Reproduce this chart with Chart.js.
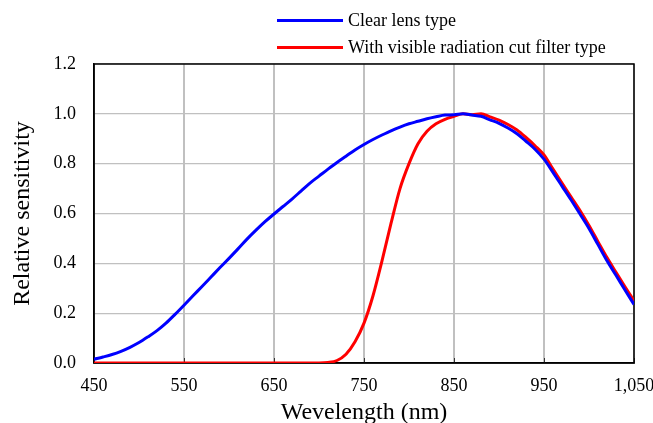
<!DOCTYPE html>
<html>
<head>
<meta charset="utf-8">
<script src="https://cdn.jsdelivr.net/npm/chart.js@4.4.1/dist/chart.umd.min.js"></script>
<style>
  html, body { margin: 0; padding: 0; background: #fff; }
  #wrap { position: relative; width: 653px; height: 423px; overflow: hidden; }
  #c { position: absolute; left: 0; top: 0; }
  .leg { position: absolute; left: 277px; height: 24px; font: 18px "Liberation Serif", "Times New Roman", serif; color: #000; white-space: nowrap; }
  .leg .sw { position: absolute; left: 0; top: 10px; width: 66px; height: 3px; }
  .leg .tx { position: absolute; left: 71px; top: 0; line-height: 22px; }
</style>
</head>
<body>
<div id="wrap">
  <canvas id="c" width="653" height="423"></canvas>
  <div class="leg" style="top:9px"><div class="sw" style="background:#0000ff"></div><div class="tx">Clear lens type</div></div>
  <div class="leg" style="top:36px"><div class="sw" style="background:#ff0000"></div><div class="tx">With visible radiation cut filter type</div></div>
</div>
<script>
const wavelengths = [450,460,470,480,490,500,510,520,530,540,550,560,570,580,590,600,610,620,630,640,650,660,670,680,690,700,710,720,730,740,750,760,770,780,790,800,810,820,830,840,850,860,870,880,890,900,910,920,930,940,950,960,970,980,990,1000,1010,1020,1030,1040,1050];

const clearLens = [0.015,0.024,0.034,0.047,0.063,0.082,0.105,0.13,0.16,0.195,0.232,0.27,0.307,0.345,0.383,0.42,0.458,0.497,0.533,0.567,0.598,0.628,0.658,0.69,0.722,0.75,0.778,0.805,0.83,0.855,0.877,0.897,0.915,0.932,0.947,0.96,0.97,0.98,0.988,0.995,0.996,1.0,0.995,0.99,0.976,0.962,0.943,0.92,0.89,0.858,0.818,0.765,0.71,0.655,0.598,0.54,0.475,0.41,0.352,0.293,0.235];

const cutFilter = [0,0,0,0,0,0,0,0,0,0,0,0,0,0,0,0,0,0,0,0,0,0,0,0,0,0,0.002,0.01,0.035,0.085,0.16,0.27,0.41,0.56,0.70,0.80,0.88,0.93,0.96,0.978,0.99,1.0,0.996,1.0,0.988,0.975,0.957,0.935,0.905,0.872,0.835,0.778,0.722,0.667,0.612,0.552,0.487,0.423,0.364,0.306,0.25];

const xTicks = [450,550,650,750,850,950,1050];
const yTicks = [0.0,0.2,0.4,0.6,0.8,1.0,1.2];

const serif = '"Liberation Serif", "Times New Roman", serif';

const framePlugin = {
  id: 'frame',
  beforeDatasetsDraw(chart) {
    const {ctx, chartArea: a, scales} = chart;
    ctx.save();
    ctx.strokeStyle = '#333';
    ctx.lineWidth = 1;
    xTicks.forEach(v => {
      const px = Math.round(scales.x.getPixelForValue(v)) + 0.5;
      ctx.beginPath();
      ctx.moveTo(px, a.bottom);
      ctx.lineTo(px, a.bottom - 5);
      ctx.stroke();
    });
    ctx.strokeStyle = '#000';
    ctx.lineWidth = 1.5;
    ctx.strokeRect(a.left, a.top, a.right - a.left, a.bottom - a.top);
    ctx.restore();
  }
};

new Chart(document.getElementById('c'), {
  type: 'line',
  data: {
    labels: wavelengths,
    datasets: [
      { label: 'Clear lens type', data: wavelengths.map((w,i)=>({x:w,y:clearLens[i]})), borderColor: '#0000ff', borderWidth: 3, pointRadius: 0, cubicInterpolationMode: 'monotone', fill: false },
      { label: 'With visible radiation cut filter type', data: wavelengths.map((w,i)=>({x:w,y:cutFilter[i]})), borderColor: '#ff0000', borderWidth: 3, pointRadius: 0, cubicInterpolationMode: 'monotone', fill: false }
    ]
  },
  options: {
    responsive: false,
    animation: false,
    devicePixelRatio: 1,
    layout: { padding: { left: 0, right: 19, top: 64, bottom: 0 } },
    plugins: { legend: { display: false }, tooltip: { enabled: false } },
    scales: {
      x: {
        type: 'linear', min: 450, max: 1050,
        afterFit(s) { s.height = 60; s.paddingLeft = 0; s.paddingRight = 0; },
        afterBuildTicks(s) { s.ticks = xTicks.map(v => ({value: v})); },
        ticks: { font: { family: serif, size: 18 }, color: '#000', padding: 12, maxRotation: 0, autoSkip: false,
                 callback: v => v.toLocaleString('en-US') },
        grid: { color: '#c0c0c0', lineWidth: 2, drawTicks: false },
        border: { color: '#000', width: 1.5 },
        title: { display: true, text: 'Wevelength (nm)', color: '#000', font: { family: serif, size: 24, lineHeight: 0.85 }, padding: 0 }
      },
      y: {
        type: 'linear', min: 0, max: 1.2,
        afterFit(s) { s.width = 94; s.paddingTop = 0; s.paddingBottom = 0; },
        afterBuildTicks(s) { s.ticks = yTicks.map(v => ({value: v})); },
        ticks: { font: { family: serif, size: 18 }, color: '#000', padding: 18,
                 callback: v => Number(v).toFixed(1) },
        grid: { color: '#c0c0c0', lineWidth: 1.3, drawTicks: false },
        border: { color: '#000', width: 1.5 },
        title: { display: true, text: 'Relative sensitivity', color: '#000', font: { family: serif, size: 24, lineHeight: 1 }, padding: { top: 11, bottom: 0 } }
      }
    }
  },
  plugins: [framePlugin]
});
</script>
</body>
</html>
